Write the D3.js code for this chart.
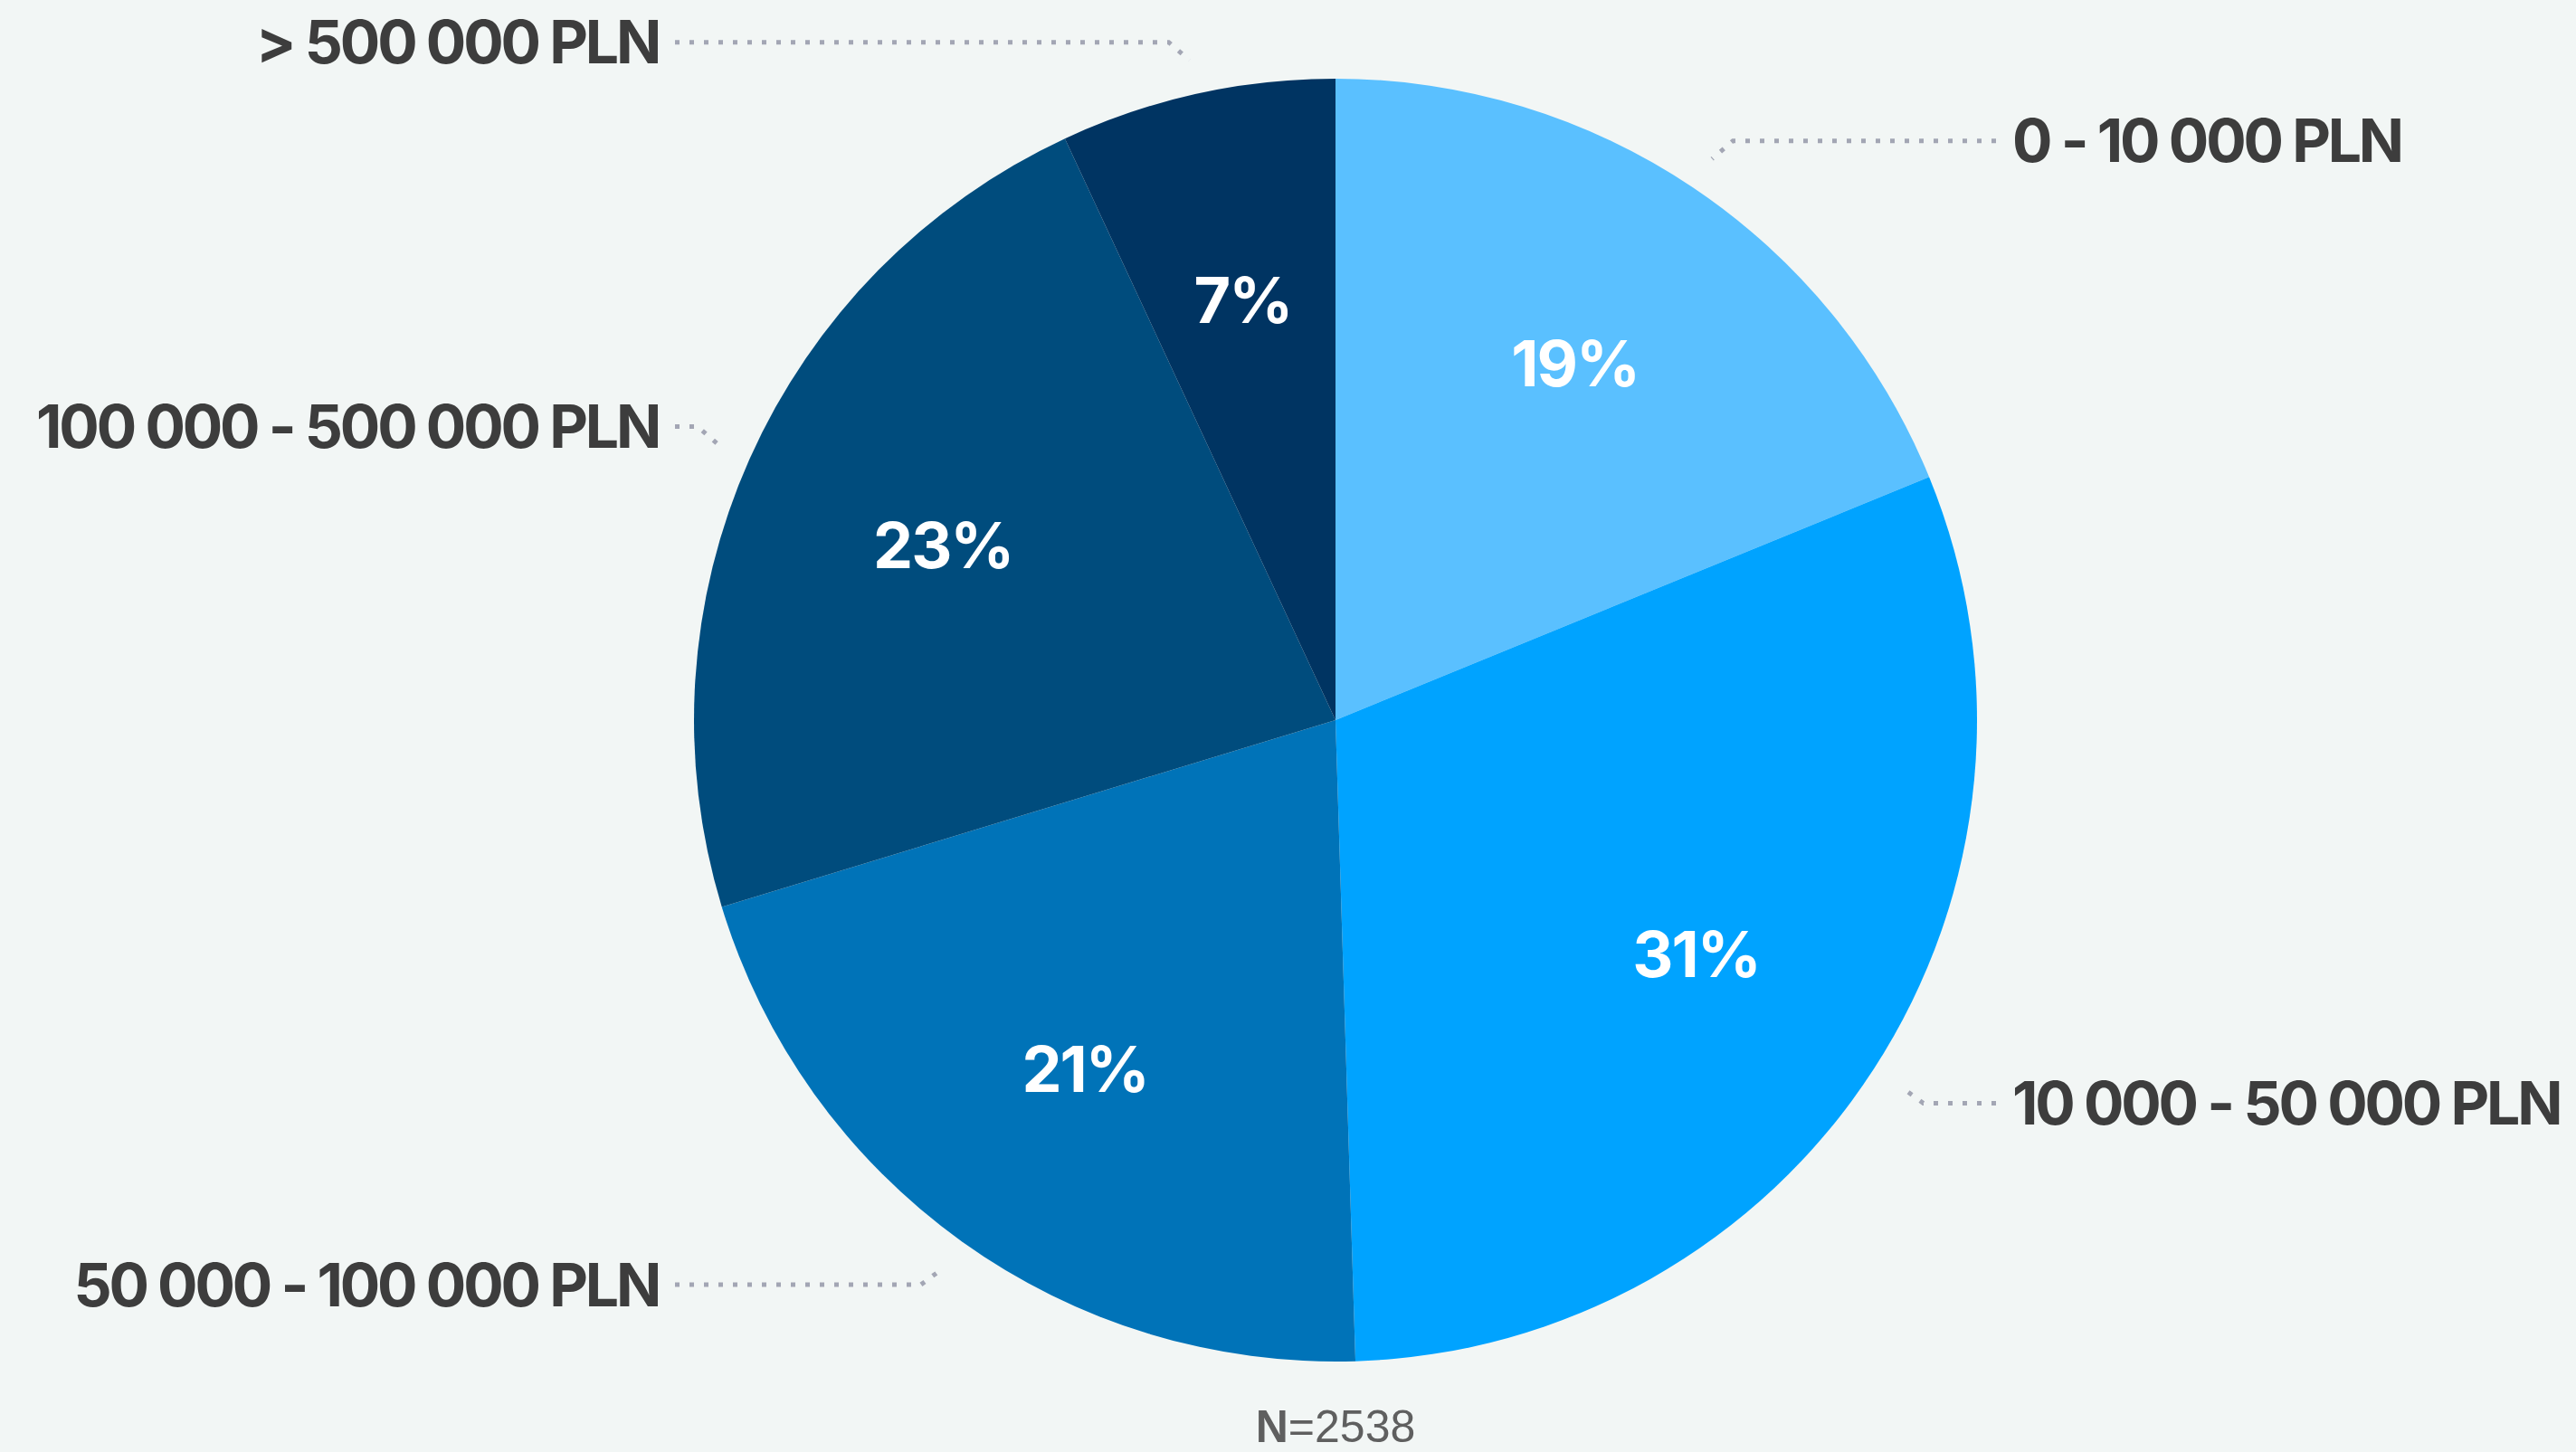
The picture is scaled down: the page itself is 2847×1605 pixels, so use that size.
<!DOCTYPE html>
<html>
<head>
<meta charset="utf-8">
<script src="https://cdn.jsdelivr.net/npm/d3@7"></script>
<style>
  html, body { margin: 0; padding: 0; background: #F2F6F5; }
  svg { display: block; }
</style>
</head>
<body>
<svg id="chart"></svg>
<script>
// Income brackets and their shares (%), clockwise from 12 o'clock
const categories = ["0 - 10 000 PLN", "10 000 - 50 000 PLN", "50 000 - 100 000 PLN", "100 000 - 500 000 PLN", "> 500 000 PLN"];
const shares = [19, 31, 21, 23, 7];
const colors = ["#5AC0FF", "#00A3FF", "#0073B8", "#004C7D", "#003462"];
const sampleSize = 2538;

const W = 2847, H = 1605;
const cx = 1476, cy = 796, R = 709;
const labelRadius = 475;
const connectorRadius = R + 38;

const svg = d3.select("#chart").attr("width", W).attr("height", H);
svg.append("rect").attr("width", W).attr("height", H).attr("fill", "#F2F6F5");

const data = categories.map((c, i) => ({ name: c, value: shares[i], color: colors[i] }));
const pie = d3.pie().value(d => d.value).sort(null);
const arcs = pie(data);

const arc = d3.arc().innerRadius(0).outerRadius(R);
const labelArc = d3.arc().innerRadius(labelRadius).outerRadius(labelRadius);
const connArc = d3.arc().innerRadius(connectorRadius).outerRadius(connectorRadius);

const g = svg.append("g").attr("transform", `translate(${cx},${cy})`);

g.selectAll("path.slice")
  .data(arcs)
  .join("path")
  .attr("class", "slice")
  .attr("d", arc)
  .attr("fill", d => d.data.color);

// Percentage labels inside the slices
const pctSize = 70;
g.selectAll("text.pct")
  .data(arcs)
  .join("text")
  .attr("class", "pct")
  .attr("x", d => labelArc.centroid(d)[0])
  .attr("y", d => labelArc.centroid(d)[1] + pctSize * 0.36)
  .attr("text-anchor", "middle")
  .attr("font-family", "Inter, 'Liberation Sans', sans-serif")
  .attr("font-weight", 700)
  .attr("font-size", pctSize)
  .attr("letter-spacing", -2)
  .attr("fill", "#FFFFFF")
  .text(d => d.data.value + "%");

// Outside category labels with dotted crooked connectors
const catSize = 66;
const labelGap = 18;
const crook = 23;
arcs.forEach(d => {
  const mid = (d.startAngle + d.endAngle) / 2;
  const side = Math.sin(mid) >= 0 ? 1 : -1;
  const [ex, ey] = connArc.centroid(d);
  const ly = ey + (ey < 0 ? -20 : 17);
  const lx = side * (connectorRadius + 1);
  const bx = ex + side * crook;
  const startX = lx - side * labelGap;

  g.append("path")
    .attr("d", d3.line()([[startX, ly], [bx, ly], [ex, ey]]))
    .attr("fill", "none")
    .attr("stroke", "#A3A6B4")
    .attr("stroke-width", 5)
    .attr("stroke-dasharray", "5 11");

  g.append("text")
    .attr("x", lx)
    .attr("y", ly + catSize * 0.36)
    .attr("text-anchor", side > 0 ? "start" : "end")
    .attr("font-family", "Inter, 'Liberation Sans', sans-serif")
    .attr("font-weight", 700)
    .attr("font-size", catSize)
    .attr("letter-spacing", -3.2)
    .attr("fill", "#3D3D3D")
    .text(d.data.name);
});

// Sample size note
const note = svg.append("text")
  .attr("x", cx)
  .attr("y", 1594)
  .attr("text-anchor", "middle")
  .attr("font-family", "'Liberation Sans', Arial, sans-serif")
  .attr("font-size", 50)
  .attr("fill", "#5F5F5F");
note.append("tspan").attr("font-weight", 700).text("N");
note.append("tspan").text("=" + sampleSize);
</script>
</body>
</html>
